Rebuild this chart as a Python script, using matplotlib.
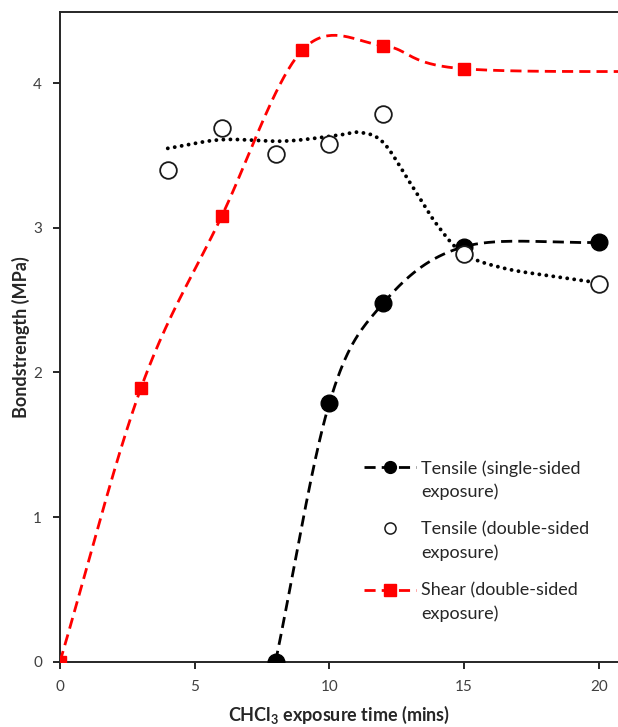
import numpy as np
import matplotlib
matplotlib.use('Agg')
import matplotlib.pyplot as plt
from matplotlib.lines import Line2D
from matplotlib.legend_handler import HandlerLine2D

plt.rcParams['font.family'] = ['Lato', 'DejaVu Sans']
plt.rcParams['mathtext.fontset'] = 'custom'
plt.rcParams['mathtext.rm'] = 'Lato'
plt.rcParams['mathtext.bf'] = 'Lato:bold'

# exposure time (mins) vs bond strength (MPa)
single_x = [8, 10, 12, 15, 20]
single_y = [0.0, 1.79, 2.48, 2.87, 2.90]

double_x = [4, 6, 8, 10, 12, 15, 20]
double_y = [3.40, 3.69, 3.51, 3.58, 3.79, 2.82, 2.61]

# smoothed trend drawn through the double-sided points
trend_x = [4, 6, 8.3, 10.3, 11.15, 12, 13, 14, 15, 16.5, 18.5, 20]
trend_y = [3.55, 3.61, 3.60, 3.64, 3.66, 3.59, 3.31, 3.02, 2.82, 2.72, 2.66, 2.62]

# last shear point lies beyond the visible x range
shear_x = [0, 3, 6, 9, 12, 15, 25]
shear_y = [0.0, 1.89, 3.08, 4.23, 4.26, 4.10, 4.08]

labels = ['Tensile (single-sided\nexposure)',
          'Tensile (double-sided\nexposure)',
          'Shear (double-sided\nexposure)']

LEG_FS = 13
LEG_LINESPACING = 1.5


def smooth(xs, ys, n=40):
    # Excel-style smoothed line: cubic Bezier segments, Catmull-Rom control points
    p = np.column_stack([xs, ys]).astype(float)
    pts = np.vstack([2 * p[0] - p[1], p, 2 * p[-1] - p[-2]])
    t = np.linspace(0, 1, n)[:, None]
    out = []
    for i in range(1, len(pts) - 2):
        p0, p1, p2, p3 = pts[i - 1:i + 3]
        c1 = p1 + (p2 - p0) / 6
        c2 = p2 - (p3 - p1) / 6
        seg = (1 - t) ** 3 * p1 + 3 * (1 - t) ** 2 * t * c1 + 3 * (1 - t) * t ** 2 * c2 + t ** 3 * p2
        out.append(seg if i == 1 else seg[1:])
    out = np.vstack(out)
    return out[:, 0], out[:, 1]


class FirstLineHandler(HandlerLine2D):
    # labels are baseline-aligned on their last line; lift the handle one line up
    def create_artists(self, legend, orig_handle, xdescent, ydescent, width,
                       height, fontsize, trans):
        arts = super().create_artists(legend, orig_handle, xdescent, ydescent,
                                      width, height, fontsize, trans)
        shift = fontsize * LEG_LINESPACING * 0.86
        for a in arts:
            a.set_ydata(np.asarray(a.get_ydata(), float) + shift)
        return arts


fig = plt.figure(figsize=(6.18, 7.27), dpi=100)
ax = fig.add_axes([60 / 618, 65.3 / 727, 1 - 60 / 618, 650 / 727])

dash = (0, (4, 2.2))

sx, sy = smooth(single_x, single_y)
ax.plot(sx, sy, color='black', lw=2.0, linestyle=dash, zorder=3)
ax.plot(single_x, single_y, 'o', color='black', ms=12, zorder=4)

tx, ty = smooth(trend_x, trend_y)
ax.plot(tx, ty, color='black', lw=2.8, linestyle=(0, (0.01, 1.8)),
        dash_capstyle='round', zorder=2)
ax.plot(double_x, double_y, 'o', mfc='white', mec='#1a1a1a', mew=1.3,
        ms=12, zorder=5)

hx, hy = smooth(shear_x, shear_y)
ax.plot(hx, hy, color='red', lw=2.0, linestyle=dash, zorder=3)
ax.plot(shear_x, shear_y, 's', color='red', ms=8.5, zorder=4)

ax.set_xlim(0, 20.71)
ax.set_ylim(0, 4.495)
ax.set_xticks([0, 5, 10, 15, 20])
ax.set_yticks([0, 1, 2, 3, 4])

for s in ['left', 'bottom', 'top']:
    ax.spines[s].set_linewidth(1.4)
    ax.spines[s].set_color('#262626')
ax.spines['right'].set_visible(False)

ax.tick_params(direction='out', length=5, width=1.4, color='#262626',
               labelsize=11, labelcolor='#404040')
ax.tick_params(axis='y', pad=8)
ax.tick_params(axis='x', pad=8)

ax.set_xlabel(r'CHCl$_\mathbf{3}$ exposure time (mins)', fontsize=13,
              fontweight='bold', color='#262626', labelpad=7)
ax.set_ylabel('Bondstrength (MPa)', fontsize=13, fontweight='bold',
              color='#262626', labelpad=2)

handles = [
    Line2D([], [], color='black', lw=2.0, linestyle=dash, marker='o', ms=8.5),
    Line2D([], [], linestyle='none', marker='o', mfc='white', mec='#1a1a1a',
           mew=1.1, ms=8),
    Line2D([], [], color='red', lw=2.0, linestyle=dash, marker='s', ms=8),
]
leg = ax.legend(handles, labels, loc='upper left',
                bbox_to_anchor=(364 / 618, 1 - 460 / 727),
                bbox_transform=fig.transFigure, frameon=False, fontsize=LEG_FS,
                handlelength=2.9, handletextpad=0.25, labelspacing=1.2,
                borderpad=0, borderaxespad=0,
                handler_map={Line2D: FirstLineHandler()})
for txt in leg.get_texts():
    txt.set_color('#262626')
    txt.set_linespacing(LEG_LINESPACING)

for col in leg._legend_handle_box.get_children():
    for row in col.get_children():
        for child in row.get_children():
            if hasattr(child, '_multilinebaseline'):
                child._multilinebaseline = False

fig.savefig('out.png', dpi=100)
